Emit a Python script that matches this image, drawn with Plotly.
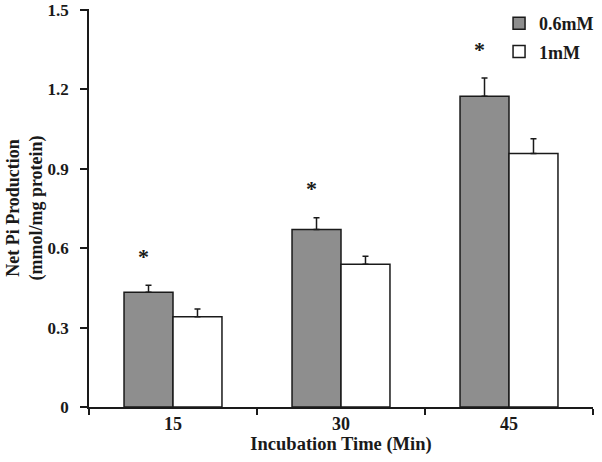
import plotly.graph_objects as go

# incubation time (min)
times = ["15", "30", "45"]

# net Pi production (mmol/mg protein)
vals_06 = [0.434, 0.671, 1.174]
err_06 = [0.026, 0.044, 0.069]
vals_1 = [0.341, 0.539, 0.958]
err_1 = [0.029, 0.031, 0.056]

# significance marks over the 0.6mM bars
marks = ["*", "*", "*"]

y_ticks = [0, 0.3, 0.6, 0.9, 1.2, 1.5]
y_ticktext = ["0", "0.3", "0.6", "0.9", "1.2", "1.5"]

FONT = "Liberation Serif"
INK = "#1a1a1a"

fig = go.Figure()

fig.add_trace(go.Bar(
    name="0.6mM",
    legendgroup="a",
    x=times,
    y=vals_06,
    marker=dict(color="#8e8e8e", line=dict(color=INK, width=1.5)),
    error_y=dict(type="data", symmetric=False, array=err_06,
                 arrayminus=[0] * len(err_06), color=INK, thickness=1.5, width=3),
))
fig.add_trace(go.Bar(
    name="1mM",
    legendgroup="b",
    x=times,
    y=vals_1,
    marker=dict(color="white", line=dict(color=INK, width=1.5)),
    error_y=dict(type="data", symmetric=False, array=err_1,
                 arrayminus=[0] * len(err_1), color=INK, thickness=1.5, width=3),
))

# category index positions (annotation x strings like "15" would be read as numbers)
for i, (v, e, m) in enumerate(zip(vals_06, err_06, marks)):
    fig.add_annotation(
        x=i, y=v + e, text=m, showarrow=False,
        xshift=-30, yshift=29, yanchor="middle",
        font=dict(family=FONT, size=22, color=INK, weight="bold"),
    )

fig.update_layout(
    width=602,
    height=462,
    margin=dict(l=89, r=9, t=9, b=55, autoexpand=False),
    paper_bgcolor="white",
    plot_bgcolor="white",
    barmode="group",
    bargap=0.417,
    bargroupgap=0,
    font=dict(family=FONT, size=17, color=INK, weight="bold"),
    showlegend=True,
    legend=dict(
        x=1.012, xanchor="right", y=1.01, yanchor="top",
        bgcolor="rgba(0,0,0,0)", itemwidth=30,
        font=dict(family=FONT, size=18, color=INK, weight="bold"),
        tracegroupgap=2,
    ),
)

fig.update_xaxes(
    type="category",
    range=[-0.5, 2.5],
    tickson="boundaries",
    ticks="outside",
    ticklen=6,
    tickwidth=1.5,
    tickcolor=INK,
    tickangle=0,
    showline=True,
    linecolor=INK,
    linewidth=1.5,
    showgrid=False,
    tickfont=dict(family=FONT, size=18, color=INK, weight="bold"),
    title=dict(text="Incubation Time (Min)", standoff=0,
               font=dict(family=FONT, size=18.5, color=INK, weight="bold")),
)

fig.update_yaxes(
    range=[0, 1.504],
    tickvals=y_ticks,
    ticktext=y_ticktext,
    ticks="outside",
    ticklen=7,
    tickwidth=1.5,
    tickcolor=INK,
    ticklabelstandoff=8,
    ticklabeloverflow="allow",
    showline=True,
    linecolor=INK,
    linewidth=1.5,
    showgrid=False,
    zeroline=False,
    tickfont=dict(family=FONT, size=17, color=INK, weight="bold"),
    title=dict(text="Net Pi Production<br>(mmol/mg protein)", standoff=0,
               font=dict(family=FONT, size=18, color=INK, weight="bold")),
)

# the page body has a default 8px margin; drop it so the figure sits at the corner
fig.write_html("out.html", config={"displayModeBar": False},
               post_script="document.body.style.margin='0';")
